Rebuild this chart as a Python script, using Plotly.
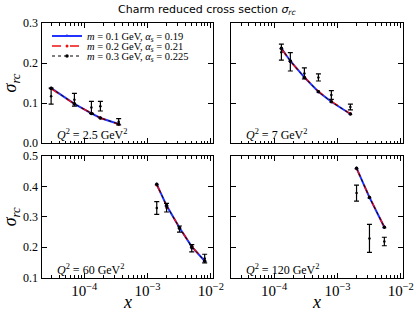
import plotly.graph_objects as go

# ---------------- data ----------------
q2_labels = ["2.5", "7", "60", "120"]

x_q2_2p5 = [3e-5, 7e-5, 1.3e-4, 1.8e-4, 3.5e-4]
th_a_q2_2p5 = [0.137, 0.098, 0.074, 0.0625, 0.0475]
th_b_q2_2p5 = [0.136, 0.0975, 0.0745, 0.0625, 0.047]
th_c_q2_2p5 = [0.137, 0.098, 0.074, 0.0625, 0.0475]
dat_x_q2_2p5 = [3e-5, 7e-5, 1.3e-4, 1.8e-4, 3.5e-4]
dat_q2_2p5 = [0.117, 0.108, 0.089, 0.092, 0.053]
err_q2_2p5 = [0.020, 0.016, 0.015, 0.012, 0.008]

x_q2_7 = [1.3e-4, 1.8e-4, 3e-4, 5e-4, 8e-4, 1.6e-3]
th_a_q2_7 = [0.237, 0.205, 0.164, 0.128, 0.103, 0.0725]
th_b_q2_7 = [0.236, 0.204, 0.165, 0.129, 0.104, 0.073]
th_c_q2_7 = [0.237, 0.205, 0.164, 0.128, 0.103, 0.0725]
dat_x_q2_7 = [1.3e-4, 1.8e-4, 3e-4, 5e-4, 8e-4, 1.6e-3]
dat_q2_7 = [0.227, 0.203, 0.174, 0.164, 0.120, 0.090]
err_q2_7 = [0.020, 0.023, 0.014, 0.009, 0.011, 0.007]

x_q2_60 = [1.4e-3, 2e-3, 3.2e-3, 5e-3, 8e-3]
th_a_q2_60 = [0.407, 0.337, 0.264, 0.202, 0.155]
th_b_q2_60 = [0.405, 0.336, 0.265, 0.203, 0.156]
th_c_q2_60 = [0.407, 0.337, 0.264, 0.202, 0.155]
dat_x_q2_60 = [1.4e-3, 2e-3, 3.2e-3, 5e-3, 8e-3]
dat_q2_60 = [0.329, 0.330, 0.260, 0.197, 0.163]
err_q2_60 = [0.021, 0.014, 0.010, 0.012, 0.014]

x_q2_120 = [2e-3, 3.2e-3, 5.5e-3]
th_a_q2_120 = [0.460, 0.364, 0.266]
th_b_q2_120 = [0.459, 0.365, 0.267]
th_c_q2_120 = [0.460, 0.364, 0.266]
dat_x_q2_120 = [2e-3, 3.2e-3, 5.5e-3]
dat_q2_120 = [0.378, 0.229, 0.219]
err_q2_120 = [0.026, 0.046, 0.014]

series_names = [
    "<i>m</i> = 0.1 GeV, <i>α<sub>s</sub></i> = 0.19",
    "<i>m</i> = 0.2 GeV, <i>α<sub>s</sub></i> = 0.21",
    "<i>m</i> = 0.3 GeV, <i>α<sub>s</sub></i> = 0.225",
]

panels = [
    (x_q2_2p5, th_a_q2_2p5, th_b_q2_2p5, th_c_q2_2p5, dat_x_q2_2p5, dat_q2_2p5, err_q2_2p5),
    (x_q2_7, th_a_q2_7, th_b_q2_7, th_c_q2_7, dat_x_q2_7, dat_q2_7, err_q2_7),
    (x_q2_60, th_a_q2_60, th_b_q2_60, th_c_q2_60, dat_x_q2_60, dat_q2_60, err_q2_60),
    (x_q2_120, th_a_q2_120, th_b_q2_120, th_c_q2_120, dat_x_q2_120, dat_q2_120, err_q2_120),
]

W, H = 415, 312
SERIF = "Liberation Serif, Times New Roman, serif"

fig = go.Figure()

axis_ids = ["", "2", "3", "4"]
for i, (xv, ta, tb, tc, dx, dv, de) in enumerate(panels):
    ax = "x" + axis_ids[i]
    ay = "y" + axis_ids[i]
    show = (i == 0)
    fig.add_trace(go.Scatter(x=xv, y=ta, mode="lines+markers", xaxis=ax, yaxis=ay,
                             name=series_names[0], showlegend=show, legend="legend",
                             line=dict(color="#2233ff", width=2),
                             marker=dict(symbol="triangle-up", size=4, color="#2233ff")))
    fig.add_trace(go.Scatter(x=xv, y=tb, mode="lines+markers", xaxis=ax, yaxis=ay,
                             name=series_names[1], showlegend=show, legend="legend2",
                             line=dict(color="#ee1111", width=1.5, dash="dash"),
                             marker=dict(symbol="circle", size=3, color="#ee1111")))
    fig.add_trace(go.Scatter(x=xv, y=tc, mode="lines+markers", xaxis=ax, yaxis=ay,
                             name=series_names[2], showlegend=show, legend="legend3",
                             line=dict(color="black", width=1, dash="dot"),
                             marker=dict(symbol="circle", size=3.5, color="black")))
    fig.add_trace(go.Scatter(x=dx, y=dv, mode="markers", xaxis=ax, yaxis=ay,
                             showlegend=False,
                             marker=dict(symbol="circle", size=2.5, color="black"),
                             error_y=dict(type="data", array=de, visible=True,
                                          color="black", thickness=1.2, width=2.5)))

def px_x(p):
    return p / W

def px_y(p):
    return 1 - p / H

left_dom = [px_x(41.5), px_x(212.7)]
right_dom = [px_x(230.5), px_x(403)]
top_dom = [px_y(143), px_y(23)]
bot_dom = [px_y(277.7), px_y(156)]

xr_left = [-4.675, -1.97]
xr_right = [-4.69, -1.965]

common = dict(showline=True, linecolor="black", linewidth=1, mirror="ticks",
              ticks="inside", ticklen=5, tickcolor="black", showgrid=False,
              zeroline=False, automargin=False,
              tickfont=dict(family=SERIF, size=12, color="black"))

xcommon = dict(common, type="log", dtick=1, exponentformat="power",
               minor=dict(ticks="inside", ticklen=2.5, dtick="D1", tickcolor="black", showgrid=False))

ytitle = dict(text="<i>σ<sub>rc</sub></i>", font=dict(family=SERIF, size=18, color="black"), standoff=8)

fig.update_layout(
    xaxis=dict(xcommon, domain=left_dom, range=xr_left, anchor="y", showticklabels=False),
    yaxis=dict(common, domain=top_dom, range=[0, 0.3], dtick=0.1, tickformat=".1f", anchor="x", title=ytitle),
    xaxis2=dict(xcommon, domain=right_dom, range=xr_right, anchor="y2", showticklabels=False),
    yaxis2=dict(common, domain=top_dom, range=[0, 0.3], dtick=0.1, anchor="x2", showticklabels=False),
    xaxis3=dict(xcommon, domain=left_dom, range=xr_left, anchor="y3"),
    yaxis3=dict(common, domain=bot_dom, range=[0.1, 0.5], dtick=0.1, tickformat=".1f", anchor="x3", title=ytitle),
    xaxis4=dict(xcommon, domain=right_dom, range=xr_right, anchor="y4"),
    yaxis4=dict(common, domain=bot_dom, range=[0.1, 0.5], dtick=0.1, anchor="x4", showticklabels=False),
)

annotations = [
    dict(text="Charm reduced cross section <i>σ<sub>rc</sub></i>", x=0.5, y=px_y(10), xref="paper", yref="paper",
         showarrow=False, xanchor="center", yanchor="middle",
         font=dict(family="DejaVu Sans", size=11, color="black")),
    dict(text="<i>x</i>", x=(left_dom[0] + left_dom[1]) / 2, y=px_y(302), xref="paper", yref="paper",
         showarrow=False, xanchor="center", yanchor="middle",
         font=dict(family=SERIF, size=18, color="black")),
    dict(text="<i>x</i>", x=(right_dom[0] + right_dom[1]) / 2, y=px_y(302), xref="paper", yref="paper",
         showarrow=False, xanchor="center", yanchor="middle",
         font=dict(family=SERIF, size=18, color="black")),
]
q2_refs = [("x domain", "y domain"), ("x2 domain", "y2 domain"),
           ("x3 domain", "y3 domain"), ("x4 domain", "y4 domain")]
for i, lab in enumerate(q2_labels):
    annotations.append(dict(text=f"<i>Q</i><sup>2</sup> = {lab} GeV<sup>2</sup>",
                            x=0.08, y=-0.01, xref=q2_refs[i][0], yref=q2_refs[i][1],
                            xanchor="left", yanchor="bottom", showarrow=False,
                            font=dict(family=SERIF, size=12, color="black")))

leg_common = dict(x=px_x(47), xanchor="left", yanchor="middle",
                  bgcolor="rgba(0,0,0,0)", font=dict(family=SERIF, size=10.5, color="black"),
                  itemwidth=30)

fig.update_layout(
    width=W, height=H,
    margin=dict(l=0, r=0, t=0, b=0, autoexpand=False),
    paper_bgcolor="white", plot_bgcolor="white",
    annotations=annotations,
    legend=dict(leg_common, y=px_y(36)),
    legend2=dict(leg_common, y=px_y(46)),
    legend3=dict(leg_common, y=px_y(56)),
)

fig.write_html("out.html", config={"displayModeBar": False},
               post_script="document.body.style.margin='0';document.body.style.overflow='hidden';")
